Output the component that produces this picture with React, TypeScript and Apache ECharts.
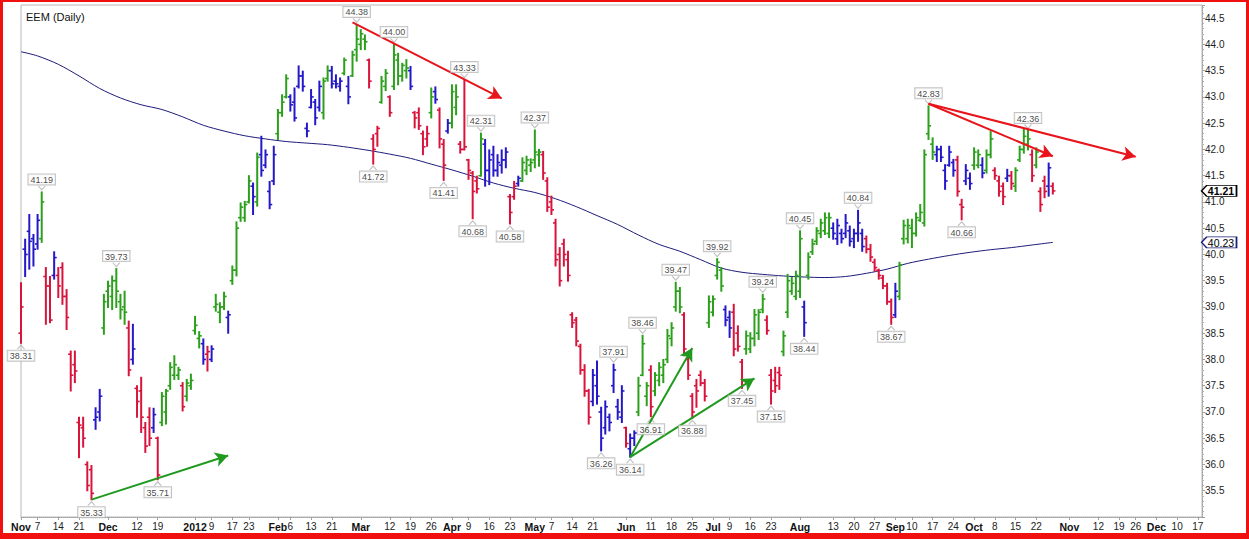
import React, { useEffect, useRef } from 'react';
import * as echarts from 'echarts';

// ---------- calendar (trading sessions shown on the axis) ----------
const HOLIDAYS = [
  '2011-11-24', '2011-12-26', '2012-01-02', '2012-01-16', '2012-02-20',
  '2012-04-06', '2012-05-28', '2012-07-04', '2012-09-03', '2012-11-22',
];

// x-axis tick labels (date -> text)
const xTickDates = [
  '2011-11-01', '2011-11-07', '2011-11-14', '2011-11-21', '2011-12-01', '2011-12-12', '2011-12-19',
  '2012-01-03', '2012-01-09', '2012-01-17', '2012-01-23', '2012-02-01', '2012-02-06', '2012-02-13',
  '2012-02-21', '2012-03-01', '2012-03-12', '2012-03-19', '2012-03-26', '2012-04-02', '2012-04-09',
  '2012-04-16', '2012-04-23', '2012-05-01', '2012-05-07', '2012-05-14', '2012-05-21', '2012-06-01',
  '2012-06-11', '2012-06-18', '2012-06-25', '2012-07-02', '2012-07-09', '2012-07-16', '2012-07-23',
  '2012-08-01', '2012-08-13', '2012-08-20', '2012-08-27', '2012-09-04', '2012-09-10', '2012-09-17',
  '2012-09-24', '2012-10-01', '2012-10-08', '2012-10-15', '2012-10-22', '2012-11-01', '2012-11-12',
  '2012-11-19', '2012-11-26', '2012-12-03', '2012-12-10', '2012-12-17',
];
const xTickTexts = [
  'Nov', '7', '14', '21', 'Dec', '12', '19',
  '2012', '9', '17', '23', 'Feb', '6', '13',
  '21', 'Mar', '12', '19', '26', 'Apr', '9',
  '16', '23', 'May', '7', '14', '21', 'Jun',
  '11', '18', '25', 'Jul', '9', '16', '23',
  'Aug', '13', '20', '27', 'Sep', '10', '17',
  '24', 'Oct', '8', '15', '22', 'Nov', '12',
  '19', '26', 'Dec', '10', '17',
];

// y-axis ticks
const Y_MIN = 35.0;
const Y_MAX = 44.75;
const Y_STEP = 0.5;

// ---------- daily bars from 2011-11-01: [impulse colour, open, high, low, close] ----------
const bars: [string, number, number, number, number][] = [
  ['r', 38.50, 39.46, 38.31, 39.00], ['b', 40.10, 40.29, 39.58, 40.00], ['b', 40.44, 40.76, 39.72, 40.25],
  ['b', 40.30, 40.38, 39.78, 40.10], ['b', 40.20, 40.76, 40.10, 40.65], ['g', 40.30, 41.19, 40.23, 41.00],
  ['r', 39.58, 39.75, 38.67, 39.40], ['r', 39.40, 39.58, 38.70, 38.75], ['b', 39.60, 40.05, 39.53, 39.94],
  ['r', 39.60, 39.75, 39.18, 39.40], ['r', 39.75, 39.84, 39.05, 39.20], ['r', 39.20, 39.33, 38.57, 38.80],
  ['r', 38.10, 38.16, 37.40, 37.70], ['r', 37.90, 38.16, 37.56, 37.78], ['r', 36.80, 36.90, 36.13, 36.75],
  ['r', 36.70, 36.90, 36.33, 36.50], ['r', 36.00, 36.05, 35.50, 35.60], ['r', 35.90, 35.98, 35.33, 35.45],
  ['b', 36.85, 37.08, 36.67, 36.90], ['b', 37.00, 37.43, 36.83, 37.30], ['g', 38.60, 39.24, 38.48, 39.10],
  ['g', 39.30, 39.49, 38.99, 39.40], ['g', 39.20, 39.59, 38.95, 39.50], ['g', 39.50, 39.73, 38.99, 39.30],
  ['g', 39.10, 39.24, 38.77, 38.95], ['g', 39.00, 39.30, 38.67, 38.90], ['r', 38.60, 38.73, 37.69, 37.80],
  ['b', 38.00, 38.67, 37.91, 38.20], ['r', 37.45, 37.50, 36.90, 37.20], ['r', 37.40, 37.66, 36.61, 36.90],
  ['r', 36.70, 36.80, 36.23, 36.35], ['r', 36.90, 37.08, 36.36, 36.50], ['b', 36.70, 37.07, 36.61, 36.95],
  ['r', 36.50, 36.52, 35.71, 35.80], ['g', 36.80, 37.37, 36.74, 37.30], ['g', 37.00, 37.43, 36.77, 37.40],
  ['g', 37.50, 37.94, 37.43, 37.85], ['g', 37.70, 38.07, 37.62, 37.90], ['g', 37.70, 37.85, 37.62, 37.80],
  ['r', 37.50, 37.56, 37.02, 37.10], ['g', 37.30, 37.62, 37.21, 37.55], ['g', 37.50, 37.72, 37.43, 37.60],
  ['g', 38.55, 38.82, 38.48, 38.65], ['g', 38.40, 38.53, 38.22, 38.45], ['b', 38.30, 38.39, 37.91, 38.00],
  ['r', 38.10, 38.25, 37.78, 38.15], ['b', 38.00, 38.26, 37.96, 38.20], ['g', 39.00, 39.24, 38.92, 39.05],
  ['g', 38.90, 39.08, 38.70, 39.00], ['g', 39.00, 39.28, 38.95, 39.20], ['b', 38.80, 38.92, 38.50, 38.85],
  ['g', 39.50, 39.78, 39.43, 39.70], ['g', 39.70, 40.62, 39.59, 40.50], ['g', 40.70, 40.98, 40.63, 40.90],
  ['g', 40.70, 41.01, 40.63, 40.95], ['g', 41.00, 41.50, 40.98, 41.40], ['b', 41.30, 41.36, 40.76, 41.10],
  ['g', 41.00, 41.93, 40.92, 41.85], ['b', 41.90, 42.25, 41.49, 41.60], ['b', 41.70, 41.99, 41.65, 41.90],
  ['b', 41.20, 41.39, 40.87, 40.95], ['b', 41.40, 42.06, 41.33, 41.90], ['g', 42.30, 42.76, 42.19, 42.70],
  ['g', 42.70, 43.04, 42.63, 42.90], ['g', 43.00, 43.42, 42.98, 43.35], ['b', 43.00, 43.04, 42.73, 42.85],
  ['b', 42.90, 43.17, 42.54, 42.60], ['b', 43.20, 43.59, 43.17, 43.40], ['b', 43.40, 43.49, 43.11, 43.20],
  ['b', 42.40, 42.50, 42.24, 42.35], ['b', 42.80, 43.14, 42.79, 43.00], ['b', 42.90, 42.95, 42.47, 42.60],
  ['b', 42.80, 43.30, 42.73, 43.20], ['g', 42.70, 43.36, 42.58, 43.30], ['g', 43.35, 43.59, 43.30, 43.50],
  ['b', 43.50, 43.58, 43.17, 43.25], ['b', 43.30, 43.42, 43.17, 43.25], ['b', 43.20, 43.36, 43.11, 43.30],
  ['g', 43.45, 43.74, 43.42, 43.70], ['b', 43.20, 43.39, 42.87, 43.00], ['g', 43.40, 43.87, 43.39, 43.80],
  ['g', 43.90, 44.38, 43.68, 44.10], ['g', 44.00, 44.28, 43.90, 44.20], ['g', 44.10, 44.18, 43.90, 44.05],
  ['r', 43.70, 43.72, 43.17, 43.30], ['r', 42.20, 42.28, 41.72, 42.00], ['r', 42.30, 42.44, 42.06, 42.40],
  ['g', 42.90, 43.39, 42.88, 43.30], ['g', 43.20, 43.52, 43.12, 43.45], ['r', 43.00, 43.02, 42.63, 42.70],
  ['g', 43.20, 44.00, 43.14, 43.80], ['g', 43.70, 43.83, 43.23, 43.40], ['g', 43.40, 43.64, 43.30, 43.60],
  ['g', 43.50, 43.71, 43.36, 43.55], ['b', 43.50, 43.58, 43.14, 43.20], ['r', 42.70, 42.72, 42.41, 42.60],
  ['r', 42.70, 42.79, 42.38, 42.45], ['r', 42.30, 42.35, 41.90, 42.05], ['r', 42.20, 42.44, 42.06, 42.30],
  ['g', 42.70, 43.17, 42.60, 43.00], ['b', 43.10, 43.19, 42.88, 42.95], ['r', 42.75, 42.79, 42.03, 42.20],
  ['r', 42.10, 42.19, 41.41, 41.70], ['b', 42.35, 42.57, 42.31, 42.50], ['g', 42.50, 43.23, 42.41, 43.10],
  ['g', 42.80, 43.23, 42.66, 43.00], ['r', 42.10, 42.15, 41.93, 42.00], ['r', 42.00, 43.33, 41.99, 42.05],
  ['r', 41.80, 41.81, 41.43, 41.60], ['r', 41.55, 41.58, 40.68, 41.20], ['r', 41.40, 41.49, 41.17, 41.25],
  ['g', 41.50, 42.31, 41.49, 42.20], ['b', 42.10, 42.19, 41.30, 41.60], ['b', 41.60, 41.99, 41.33, 41.80],
  ['b', 41.90, 42.06, 41.49, 41.60], ['b', 41.60, 41.90, 41.49, 41.75], ['b', 41.70, 41.99, 41.55, 41.80],
  ['b', 41.80, 42.03, 41.65, 41.95], ['r', 41.10, 41.14, 40.58, 40.80], ['r', 41.10, 41.39, 41.05, 41.30],
  ['b', 41.35, 41.49, 41.30, 41.45], ['g', 41.40, 41.84, 41.39, 41.75], ['g', 41.60, 41.87, 41.52, 41.80],
  ['g', 41.70, 41.82, 41.58, 41.75], ['g', 41.80, 42.37, 41.65, 41.95], ['g', 41.90, 42.00, 41.68, 41.95],
  ['r', 41.90, 41.96, 41.43, 41.55], ['r', 41.40, 41.46, 40.82, 40.90], ['r', 41.00, 41.11, 40.76, 40.85],
  ['r', 40.60, 40.67, 39.78, 39.90], ['r', 40.00, 40.13, 39.40, 39.50], ['r', 40.20, 40.29, 39.78, 40.00],
  ['r', 39.90, 40.06, 39.49, 39.60], ['r', 38.85, 38.89, 38.61, 38.70], ['r', 38.75, 38.80, 38.26, 38.35],
  ['r', 38.25, 38.29, 37.72, 37.80], ['r', 37.80, 37.90, 37.30, 37.40], ['r', 37.40, 37.43, 36.77, 36.90],
  ['b', 37.20, 37.81, 37.12, 37.70], ['b', 37.50, 37.97, 37.15, 37.30], ['b', 37.00, 37.09, 36.26, 36.50],
  ['b', 36.70, 37.21, 36.58, 37.10], ['b', 36.90, 36.96, 36.64, 36.80], ['b', 37.50, 37.91, 37.37, 37.80],
  ['b', 37.10, 37.24, 36.86, 37.00], ['b', 36.90, 37.50, 36.80, 37.40], ['r', 36.70, 36.71, 36.33, 36.40],
  ['b', 36.30, 36.58, 36.14, 36.50], ['b', 36.50, 36.64, 36.36, 36.60], ['g', 37.00, 37.66, 36.93, 37.50],
  ['g', 37.70, 38.46, 37.69, 38.30], ['g', 37.30, 37.56, 37.12, 37.50], ['r', 37.80, 37.88, 36.91, 37.10],
  ['g', 37.40, 37.75, 37.31, 37.70], ['g', 37.60, 37.94, 37.50, 37.85], ['g', 37.70, 38.00, 37.56, 37.90],
  ['g', 38.00, 38.57, 37.94, 38.45], ['g', 38.40, 38.70, 38.26, 38.60], ['g', 39.00, 39.47, 38.92, 39.30],
  ['g', 39.30, 39.37, 38.89, 39.00], ['r', 38.85, 38.89, 38.07, 38.20], ['r', 38.00, 38.04, 37.62, 37.70],
  ['r', 37.30, 37.35, 36.88, 37.00], ['r', 37.50, 37.62, 37.09, 37.40], ['r', 37.70, 37.78, 37.50, 37.55],
  ['r', 37.55, 37.62, 37.21, 37.30], ['g', 38.70, 39.21, 38.61, 39.10], ['g', 38.90, 39.21, 38.83, 39.15],
  ['g', 39.60, 39.92, 39.53, 39.85], ['g', 39.70, 39.75, 39.30, 39.40], ['b', 38.95, 39.02, 38.64, 38.75],
  ['b', 38.80, 38.92, 38.42, 38.60], ['r', 38.90, 39.05, 38.07, 38.20], ['r', 38.50, 38.64, 38.16, 38.25],
  ['r', 37.95, 38.00, 37.45, 37.60], ['g', 38.20, 38.54, 38.10, 38.45], ['g', 38.20, 38.51, 38.13, 38.40],
  ['g', 38.40, 38.95, 38.26, 38.85], ['g', 38.50, 38.95, 38.38, 38.90], ['g', 38.95, 39.24, 38.89, 39.15],
  ['r', 38.75, 38.83, 38.48, 38.55], ['r', 37.70, 37.81, 37.15, 37.40], ['r', 37.60, 37.85, 37.37, 37.50],
  ['r', 37.75, 37.85, 37.43, 37.70], ['g', 38.15, 38.54, 38.07, 38.45], ['g', 38.90, 39.62, 38.80, 39.50],
  ['g', 39.30, 39.56, 39.24, 39.45], ['g', 39.20, 39.68, 39.14, 39.60], ['g', 39.30, 40.45, 39.18, 40.30],
  ['b', 39.00, 39.11, 38.44, 38.70], ['g', 39.60, 40.03, 39.53, 39.95], ['g', 40.05, 40.29, 40.00, 40.20],
  ['g', 40.25, 40.51, 40.19, 40.45], ['g', 40.40, 40.67, 40.32, 40.60], ['g', 40.45, 40.79, 40.38, 40.70],
  ['g', 40.40, 40.79, 40.32, 40.70], ['b', 40.50, 40.60, 40.29, 40.40], ['b', 40.30, 40.67, 40.19, 40.55],
  ['b', 40.40, 40.48, 40.22, 40.30], ['b', 40.40, 40.76, 40.32, 40.60], ['b', 40.45, 40.54, 40.16, 40.25],
  ['b', 40.30, 40.48, 40.13, 40.40], ['b', 40.40, 40.84, 40.25, 40.60], ['b', 40.40, 40.48, 40.06, 40.15],
  ['r', 40.30, 40.35, 40.03, 40.10], ['r', 40.10, 40.19, 39.87, 39.95], ['r', 39.85, 39.91, 39.68, 39.75],
  ['r', 39.70, 39.72, 39.53, 39.60], ['r', 39.55, 39.60, 39.35, 39.40], ['r', 39.40, 39.45, 39.05, 39.10],
  ['r', 39.10, 39.15, 38.67, 38.80], ['b', 38.85, 39.45, 38.80, 39.30], ['g', 39.20, 39.85, 39.14, 39.80],
  ['g', 40.30, 40.65, 40.20, 40.55], ['g', 40.30, 40.67, 40.22, 40.55], ['g', 40.50, 40.67, 40.13, 40.40],
  ['g', 40.40, 40.79, 40.35, 40.70], ['g', 40.65, 40.95, 40.63, 40.80], ['g', 40.60, 41.99, 40.54, 41.90],
  ['g', 42.30, 42.83, 42.19, 42.45], ['g', 42.10, 42.22, 41.81, 41.95], ['b', 41.90, 42.06, 41.77, 42.00],
  ['b', 42.00, 42.06, 41.77, 41.85], ['b', 41.60, 41.71, 41.24, 41.40], ['b', 41.70, 42.06, 41.68, 41.95],
  ['b', 41.75, 41.81, 41.49, 41.60], ['r', 41.80, 41.87, 41.11, 41.20], ['r', 40.95, 41.05, 40.66, 40.90],
  ['b', 41.40, 41.71, 41.33, 41.60], ['b', 41.45, 41.55, 41.24, 41.35], ['g', 41.70, 42.03, 41.62, 41.95],
  ['g', 41.70, 41.99, 41.65, 41.90], ['b', 41.70, 41.84, 41.46, 41.55], ['g', 41.60, 41.99, 41.55, 41.90],
  ['g', 41.90, 42.34, 41.84, 42.20], ['r', 41.60, 41.65, 41.43, 41.50], ['r', 41.40, 41.49, 41.11, 41.20],
  ['r', 41.30, 41.36, 40.95, 41.10], ['b', 41.45, 41.62, 41.39, 41.50], ['r', 41.50, 41.58, 41.24, 41.35],
  ['g', 41.30, 41.65, 41.20, 41.60], ['g', 41.80, 42.06, 41.77, 42.00], ['g', 42.00, 42.38, 41.93, 42.25],
  ['g', 42.10, 42.36, 41.99, 42.20], ['r', 41.90, 41.99, 41.39, 41.50], ['g', 41.70, 42.03, 41.65, 41.95],
  ['r', 41.20, 41.27, 40.82, 40.95], ['r', 41.40, 41.49, 41.08, 41.20], ['b', 41.30, 41.74, 41.11, 41.65],
  ['r', 41.30, 41.36, 41.15, 41.21],
];

// ---------- moving average (session index from 2011-11-01, value) ----------
const maSessions = [
  0, 4, 9, 14, 19, 24, 29, 34, 39, 44, 49, 54, 59, 64, 69, 74, 79, 84, 89, 94, 99, 104, 109, 114, 119,
  124, 129, 134, 139, 144, 149, 154, 159, 164, 169, 174, 179, 184, 189, 194, 199, 204, 209, 214, 219,
  224, 229, 234, 239, 244, 249,
];
const maValues = [
  43.86, 43.78, 43.62, 43.40, 43.16, 42.98, 42.85, 42.76, 42.62, 42.46, 42.35, 42.26, 42.20, 42.15, 42.12,
  42.09, 42.04, 41.98, 41.91, 41.83, 41.72, 41.61, 41.49, 41.36, 41.26, 41.18, 41.06, 40.91, 40.74, 40.57,
  40.37, 40.19, 40.06, 39.90, 39.74, 39.66, 39.62, 39.59, 39.57, 39.56, 39.58, 39.64, 39.72, 39.83, 39.91,
  39.98, 40.04, 40.09, 40.13, 40.18, 40.23,
];

// ---------- price call-outs (session index, value, side) ----------
const noteSessions = [0, 5, 23, 17, 33, 81, 90, 107, 85, 102, 111, 109, 118, 124, 158, 150, 143, 140, 147, 152, 162, 168, 179, 174, 181, 188, 189, 202, 210, 219, 227, 243];
const noteValues = [38.31, 41.19, 39.73, 35.33, 35.71, 44.38, 44.00, 43.33, 41.72, 41.41, 42.31, 40.68, 40.58, 42.37, 39.47, 38.46, 37.91, 36.26, 36.14, 36.91, 36.88, 39.92, 39.24, 37.45, 37.15, 40.45, 38.44, 40.84, 38.67, 42.83, 40.66, 42.36];
const noteSides = ['b', 't', 't', 'b', 'b', 't', 't', 't', 'b', 'b', 't', 'b', 'b', 't', 't', 't', 't', 'b', 'b', 'b', 'b', 't', 't', 'b', 'b', 't', 'b', 't', 'b', 't', 'b', 't'];

// ---------- trend arrows ----------
const arrowFrom: [number, number][] = [[80, 44.42], [219, 42.87], [219, 42.87], [17, 35.33], [147, 36.14], [147, 36.14]];
const arrowTo: [number, number][] = [[116, 42.97], [269, 41.86], [249, 41.87], [50, 36.17], [162, 38.22], [177, 37.64]];
const arrowColor = ['red', 'red', 'red', 'green', 'green', 'green'];

const COLORS: Record<string, string> = {
  g: '#2ca01c', r: '#d8143c', b: '#2418c8', red: '#e8141c', green: '#1f9a1f',
};
const FONT = 'Liberation Sans, Arial, sans-serif';
const TAG_PATH = 'path://M0,6 L6,0 L40,0 L40,12 L6,12 Z';
const PIN_PATH = 'path://M0,0 L5,6 L10,0';

function buildSessions(): string[] {
  const out: string[] = [];
  const d = new Date(Date.UTC(2011, 10, 1));
  const end = Date.UTC(2012, 11, 18);
  while (d.getTime() <= end) {
    const wd = d.getUTCDay();
    const s = d.toISOString().slice(0, 10);
    if (wd !== 0 && wd !== 6 && HOLIDAYS.indexOf(s) < 0) out.push(s);
    d.setUTCDate(d.getUTCDate() + 1);
  }
  return out;
}

export default function App() {
  const ref = useRef<HTMLDivElement>(null);
  useEffect(() => {
    if (!ref.current) return;
    const chart = echarts.init(ref.current, undefined, { renderer: 'svg' });
    const sessions = buildSessions();
    const lastCat = sessions.length - 1;
    const tickText: Record<string, string> = {};
    xTickDates.forEach((d, i) => { tickText[d] = xTickTexts[i]; });
    const tickIdx = new Set<number>();
    sessions.forEach((s, i) => { if (tickText[s] !== undefined) tickIdx.add(i); });
    const isBold = (t: string) => !/^\d{1,2}$/.test(t);

    const barData = bars.map((b, i) => [i, b[1], b[2], b[3], b[4]]);
    const maData = maSessions.map((s, i) => [s, maValues[i]]);
    const noteData = noteSessions.map((s, i) => ({
      value: [s, noteValues[i]],
      label: { position: noteSides[i] === 't' ? 'top' : 'bottom' },
    }));
    const pinData = noteSessions.map((s, i) => ({
      value: [s, noteValues[i]],
      symbolRotate: noteSides[i] === 't' ? 0 : 180,
      symbolOffset: [0, noteSides[i] === 't' ? -4 : 4],
    }));
    const lastClose = bars[bars.length - 1][4];
    const lastMa = maValues[maValues.length - 1];

    const tag = (value: number, border: string, bold: boolean) => ({
      coord: [lastCat, value],
      symbol: TAG_PATH, symbolSize: [35, 11], symbolOffset: [17, 0],
      itemStyle: { color: '#fff', borderColor: border, borderWidth: 1 },
      label: {
        show: true, position: 'inside', offset: [2, 0.5], formatter: value.toFixed(2),
        fontSize: 10.5, fontWeight: bold ? 'bold' : 'normal', color: '#000', fontFamily: FONT,
      },
    });

    const option: any = {
      animation: false,
      backgroundColor: '#fff',
      title: {
        text: 'EEM (Daily)', left: 21, top: 6,
        textStyle: { fontSize: 11, fontWeight: 'normal', color: '#111', fontFamily: FONT },
      },
      grid: { left: 21, right: 47, top: 5, bottom: 22, show: true, borderColor: '#b8b8b8', borderWidth: 1, backgroundColor: '#fff' },
      xAxis: {
        type: 'category', data: sessions, boundaryGap: false,
        axisLine: { show: true, lineStyle: { color: '#a0a0a0', type: 'dotted' } },
        axisTick: { show: true, length: 3, interval: (i: number) => tickIdx.has(i), lineStyle: { color: '#a0a0a0' } },
        axisLabel: {
          interval: (i: number) => tickIdx.has(i),
          margin: 4, fontSize: 10, color: '#222', fontFamily: FONT,
          formatter: (v: string) => {
            const t = tickText[v] || '';
            return isBold(t) ? `{m|${t}}` : t;
          },
          rich: { m: { fontWeight: 'bold', fontSize: 10.5, color: '#111', fontFamily: FONT } },
        },
        splitLine: { show: false },
      },
      yAxis: {
        type: 'value', position: 'right', min: Y_MIN, max: Y_MAX, interval: Y_STEP, scale: true,
        axisLine: { show: true, lineStyle: { color: '#a0a0a0', type: 'dotted' } },
        axisTick: { show: true, length: 3, lineStyle: { color: '#a0a0a0' } },
        minorTick: { show: true, splitNumber: 5, length: 2, lineStyle: { color: '#b0b0b0' } },
        axisLabel: {
          showMinLabel: false, showMaxLabel: false, margin: 3, fontSize: 10, color: '#222', fontFamily: FONT,
          formatter: (v: number) => v.toFixed(1),
        },
        splitLine: { show: false },
      },
      series: [
        {
          type: 'line', name: 'MA', data: maData, smooth: 0.3, symbol: 'none',
          lineStyle: { color: '#1c1c7a', width: 1 }, z: 2, silent: true,
          markPoint: { silent: true, data: [tag(lastMa, '#1c1c7a', false)] },
        },
        {
          type: 'custom', name: 'EEM', data: barData, z: 3, silent: true,
          encode: { x: 0, y: [1, 2, 3, 4] },
          renderItem: (params: any, api: any) => {
            const x = api.value(0);
            const o = api.coord([x, api.value(1)]);
            const h = api.coord([x, api.value(2)]);
            const l = api.coord([x, api.value(3)]);
            const c = api.coord([x, api.value(4)]);
            const col = COLORS[bars[params.dataIndex][0]];
            return {
              type: 'group',
              children: [
                { type: 'line', shape: { x1: h[0], y1: h[1] - 0.5, x2: l[0], y2: l[1] + 0.5 }, style: { stroke: col, lineWidth: 2 } },
                { type: 'line', shape: { x1: o[0] - 2.6, y1: o[1], x2: o[0], y2: o[1] }, style: { stroke: col, lineWidth: 1.6 } },
                { type: 'line', shape: { x1: c[0], y1: c[1], x2: c[0] + 2.6, y2: c[1] }, style: { stroke: col, lineWidth: 1.6 } },
              ],
            };
          },
          markPoint: { silent: true, data: [tag(lastClose, '#000', true)] },
        },
        {
          type: 'scatter', name: 'pins', data: pinData, symbol: PIN_PATH, symbolSize: [7, 4], z: 4, silent: true,
          itemStyle: { color: 'rgba(0,0,0,0)', borderColor: '#b0b0b0', borderWidth: 1 },
        },
        {
          type: 'scatter', name: 'notes', data: noteData, symbol: 'circle', symbolSize: 1, z: 5, silent: true,
          itemStyle: { color: 'rgba(0,0,0,0)' },
          label: {
            show: true, distance: 7, fontSize: 9, color: '#111', fontFamily: FONT,
            backgroundColor: '#fff', borderColor: '#b4b4b4', borderWidth: 1, padding: [1, 2, 0, 2],
            formatter: (p: any) => p.value[1].toFixed(2),
          },
          markLine: {
            silent: true, symbol: ['none', 'arrow'], symbolSize: [11, 13],
            label: { show: false },
            data: arrowFrom.map((f, i) => [
              { coord: f, lineStyle: { color: COLORS[arrowColor[i]], width: 2, type: 'solid' }, itemStyle: { color: COLORS[arrowColor[i]] } },
              { coord: arrowTo[i] },
            ]),
          },
        },
      ],
      graphic: [
        { type: 'rect', shape: { x: 0, y: 0, width: 1249, height: 2 }, style: { fill: '#f01010' }, z: 100 },
        { type: 'rect', shape: { x: 0, y: 0, width: 3, height: 539 }, style: { fill: '#f01010' }, z: 100 },
        { type: 'rect', shape: { x: 1246, y: 0, width: 3, height: 539 }, style: { fill: '#f01010' }, z: 100 },
        { type: 'rect', shape: { x: 0, y: 533, width: 1249, height: 6 }, style: { fill: '#f01010' }, z: 100 },
      ],
    };
    chart.setOption(option);
    return () => chart.dispose();
  }, []);
  return <div ref={ref} style={{ position: 'absolute', left: 0, top: 0, width: 1249, height: 539 }} />;
}
